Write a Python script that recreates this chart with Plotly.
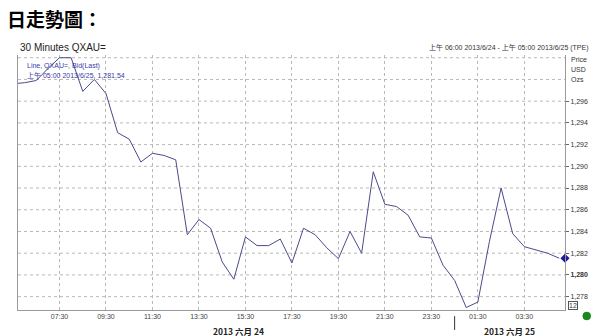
import plotly.graph_objects as go
import pandas as pd

# ---- data ----
times = pd.date_range("2013-06-24 05:30", "2013-06-25 05:00", freq="30min")
prices = [1297.6, 1297.7, 1297.9, 1299.0, 1300.0, 1300.0, 1296.9, 1298.0,
          1296.7, 1293.1, 1292.5, 1290.4, 1291.2, 1291.0, 1290.6, 1283.7,
          1285.1, 1284.3, 1281.2, 1279.6, 1283.5, 1282.7, 1282.7, 1283.3,
          1281.1, 1284.3, 1283.7, 1282.5, 1281.5, 1284.0, 1282.0, 1289.5,
          1286.5, 1286.3, 1285.5, 1283.5, 1283.4, 1280.9, 1279.5, 1277.0,
          1277.5, 1283.1, 1288.0, 1283.8, 1282.6, 1282.3, 1282.0, 1281.54]
x_tick_times = ["2013-06-24 07:30", "2013-06-24 09:30", "2013-06-24 11:30",
                "2013-06-24 13:30", "2013-06-24 15:30", "2013-06-24 17:30",
                "2013-06-24 19:30", "2013-06-24 21:30", "2013-06-24 23:30",
                "2013-06-25 01:30", "2013-06-25 03:30"]
x_tick_labels = ["07:30", "09:30", "11:30", "13:30", "15:30", "17:30",
                 "19:30", "21:30", "23:30", "01:30", "03:30"]
y_tick_vals = [1278, 1280, 1282, 1284, 1286, 1288, 1290, 1292, 1294, 1296]
y_tick_labels = ["1,278", "<b>1,280</b>", "1,282", "1,284", "1,286", "1,288",
                 "1,290", "1,292", "1,294", "1,296"]
grid_vals = [1278, 1280, 1282, 1284, 1286, 1288, 1290, 1292, 1294, 1296, 1298, 1300]
day_labels = ["2013 六月 24", "2013 六月 25"]
day_label_times = ["2013-06-24 15:13", "2013-06-25 02:51"]
day_divider_time = "2013-06-25 00:30"
x_range = ["2013-06-24 05:42:50", "2013-06-25 05:15"]

FONT = "Liberation Sans, Arial, Noto Sans CJK TC"
CJK = "Noto Sans CJK TC"

fig = go.Figure()
fig.add_trace(go.Scatter(x=times, y=prices, mode="lines",
                         line=dict(color="#4b4b8c", width=1),
                         hoverinfo="skip", showlegend=False))
# last-value marker sitting on the right axis
fig.add_trace(go.Scatter(x=[x_range[1]], y=[prices[-1]],
                         mode="markers", cliponaxis=False,
                         marker=dict(symbol="diamond", size=7, color="#1c1c9c"),
                         hoverinfo="skip", showlegend=False))

# horizontal dotted gridlines
for g in grid_vals:
    fig.add_shape(type="line", xref="paper", x0=0, x1=1, yref="y", y0=g, y1=g,
                  line=dict(color="#b8b8b8", width=1, dash="dot"), layer="below")

fig.update_layout(
    width=600, height=336,
    margin=dict(l=18, r=32, t=55, b=26),
    paper_bgcolor="white", plot_bgcolor="white",
    font=dict(family=FONT, size=7, color="#333"),
    xaxis=dict(
        range=x_range,
        tickvals=x_tick_times, ticktext=x_tick_labels,
        showgrid=True, gridcolor="#b8b8b8", griddash="dot", gridwidth=1,
        showline=True, linecolor="#9a9a9a", linewidth=1,
        ticks="", tickfont=dict(size=7, color="#444"),
        zeroline=False,
    ),
    yaxis=dict(
        range=[1276.77, 1300.25], side="right",
        tickvals=y_tick_vals, ticktext=y_tick_labels,
        showgrid=False, zeroline=False,
        showline=True, mirror=True, linecolor="#9a9a9a", linewidth=1,
        ticks="outside", ticklen=3, tickcolor="#666",
        tickfont=dict(size=7, color="#333"),
    ),
)

ann = [
    dict(text="<b>日走勢圖：</b>", x=-0.024, y=1.145, xref="paper", yref="paper",
         xanchor="left", yanchor="middle", showarrow=False,
         font=dict(family=CJK, size=19, color="#000")),
    dict(text="30 Minutes QXAU=", x=0.0, y=1.031, xref="paper", yref="paper",
         xanchor="left", yanchor="middle", showarrow=False,
         font=dict(family=FONT, size=10, color="#222")),
    dict(text="上午 06:00 2013/6/24 - 上午 05:00 2013/6/25 (TPE)", x=1.0476, y=1.031,
         xref="paper", yref="paper", xanchor="right", yanchor="middle", showarrow=False,
         font=dict(family=FONT, size=7, color="#333")),
    dict(text="Line, QXAU=, Bid(Last)", x=0.012, y=0.957, xref="paper", yref="paper",
         xanchor="left", yanchor="middle", showarrow=False,
         font=dict(family=FONT, size=7, color="#3a3aa8")),
    dict(text="上午 05:00 2013/6/25, 1,281.54", x=0.012, y=0.918, xref="paper", yref="paper",
         xanchor="left", yanchor="middle", showarrow=False,
         font=dict(family=FONT, size=7, color="#3a3aa8")),
]
for t, yy in zip(["Price", "USD", "Ozs"], [0.982, 0.943, 0.904]):
    ann.append(dict(text=t, x=1.008, y=yy, xref="paper", yref="paper",
                    xanchor="left", yanchor="middle", showarrow=False,
                    font=dict(family=FONT, size=7, color="#333")))
for t, tx in zip(day_labels, day_label_times):
    ann.append(dict(text="<b>" + t + "</b>", x=tx, y=-0.082, xref="x", yref="paper",
                    xanchor="center", yanchor="middle", showarrow=False,
                    font=dict(family=CJK, size=8.5, color="#222")))
ann.append(dict(text="12", x=1.0149, y=0.0157, xref="paper", yref="paper",
                xanchor="center", yanchor="middle", showarrow=False,
                bordercolor="#555", borderwidth=1, borderpad=0,
                font=dict(family=FONT, size=7, color="#333")))
fig.update_layout(annotations=ann)

fig.add_shape(type="line", xref="x", x0=day_divider_time, x1=day_divider_time,
              yref="paper", y0=-0.024, y1=-0.078, line=dict(color="#333", width=1))
fig.add_shape(type="circle", xref="paper", yref="paper",
              x0=1.0325, x1=1.0470, y0=-0.008, y1=-0.039,
              fillcolor="#1a8a1a", line=dict(color="#137013", width=0.5))

fig.write_html("out.html")
